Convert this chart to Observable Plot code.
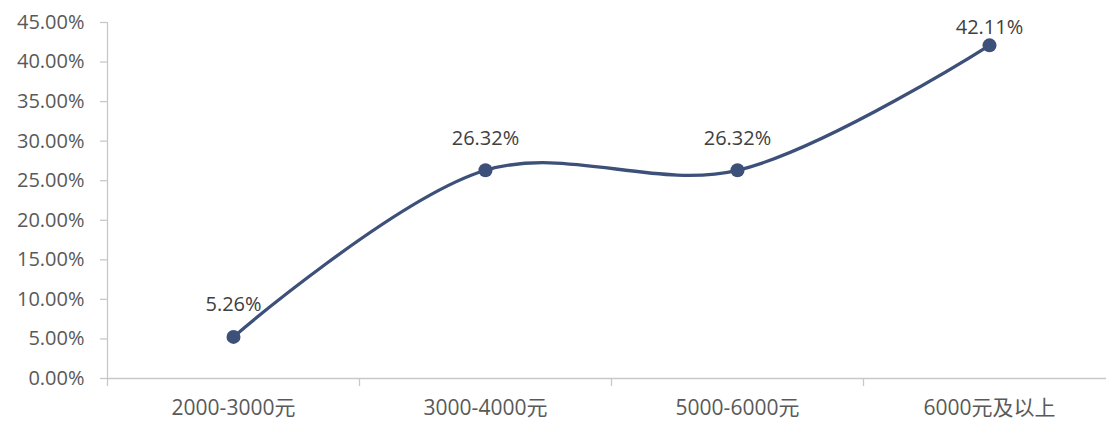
<!DOCTYPE html>
<html><head><meta charset="utf-8">
<script src="https://cdn.jsdelivr.net/npm/d3@7"></script>
<script src="https://cdn.jsdelivr.net/npm/@observablehq/plot@0.6"></script>
<style>
html,body{margin:0;padding:0;background:#fff;overflow:hidden;}
svg{font-family:"Open Sans","Noto Sans CJK SC",sans-serif;}
</style>
</head><body><div id="chart"></div>
<script>
const categories = ["2000-3000元", "3000-4000元", "5000-6000元", "6000元及以上"];
const values = [0.0526, 0.2632, 0.2632, 0.4211];
const labels = ["5.26%", "26.32%", "26.32%", "42.11%"];
const yTicks = [0, 0.05, 0.10, 0.15, 0.20, 0.25, 0.30, 0.35, 0.40, 0.45];

const data = categories.map((c, i) => ({i, c, v: values[i], label: labels[i]}));
const boundaries = d3.range(categories.length).map(i => i - 0.5);

const lineColor = "#3D5079";
const axisColor = "#C8C8C8";
const font = '"Open Sans","Noto Sans CJK SC",sans-serif';

const chart = Plot.plot({
  width: 1106,
  height: 421,
  marginLeft: 107,
  marginRight: 0,
  marginTop: 22,
  marginBottom: 43,
  style: {fontFamily: font, background: "#fff"},
  x: {type: "linear", domain: [-0.5, categories.length - 0.5], range: [107, 1115], label: null},
  y: {domain: [0, 0.45], label: null},
  marks: [
    Plot.ruleY([0], {stroke: axisColor, strokeWidth: 1.3}),
    Plot.ruleX([-0.5], {y1: 0, y2: 0.45, stroke: axisColor, strokeWidth: 1.3}),
    Plot.axisY({ticks: yTicks, tickFormat: d3.format(".2%"), tickSize: 7, tickPadding: 16, label: null,
      stroke: axisColor, strokeWidth: 1.3, fill: "#595959", fontSize: 20, strokeOpacity: 1}),
    Plot.axisX({ticks: boundaries, tickFormat: () => "", tickSize: 8, label: null,
      stroke: axisColor, strokeWidth: 1.3, strokeOpacity: 1}),
    Plot.axisX({ticks: d3.range(categories.length), tickFormat: i => categories[i], tickSize: 0, tickPadding: 22,
      label: null, fill: "#595959", fontSize: 21}),
    Plot.line(data, {x: "i", y: "v", curve: "catmull-rom", stroke: lineColor, strokeWidth: 3.3}),
    Plot.dot(data, {x: "i", y: "v", r: 7, fill: lineColor, stroke: "none"}),
    Plot.text(data.filter(d => d.i < 3), {x: "i", y: "v", text: "label", dy: -32, fontSize: 20, fill: "#404040"}),
    Plot.text(data.filter(d => d.i === 3), {x: "i", y: "v", text: "label", dy: -18, fontSize: 20, fill: "#404040"})
  ]
});
document.getElementById("chart").appendChild(chart);
</script>
</body></html>
